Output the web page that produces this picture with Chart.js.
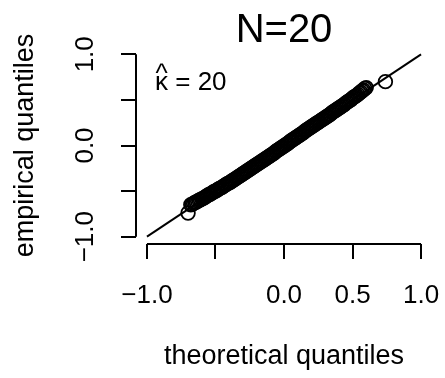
<!DOCTYPE html>
<html>
<head>
<meta charset="utf-8">
<script src="https://cdn.jsdelivr.net/npm/chart.js@4"></script>
<style>
  html, body { margin: 0; padding: 0; background: #fff; }
  canvas { display: block; }
</style>
</head>
<body>
<canvas id="qq" width="445" height="378"></canvas>
<script>
// theoretical vs empirical quantiles
const theoretical = [
  -0.70,
  -0.68,-0.67,-0.66,-0.65,-0.64,-0.63,-0.62,-0.61,-0.60,-0.59,
  -0.58,-0.57,-0.56,-0.55,-0.54,-0.53,-0.52,-0.51,-0.50,-0.49,
  -0.48,-0.47,-0.46,-0.45,-0.44,-0.43,-0.42,-0.41,-0.40,-0.39,
  -0.38,-0.37,-0.36,-0.35,-0.34,-0.33,-0.32,-0.31,-0.30,-0.29,
  -0.28,-0.27,-0.26,-0.25,-0.24,-0.23,-0.22,-0.21,-0.20,-0.19,
  -0.18,-0.17,-0.16,-0.15,-0.14,-0.13,-0.12,-0.11,-0.10,-0.09,
  -0.08,-0.07,-0.06,-0.05,-0.04,-0.03,-0.02,-0.01, 0.00, 0.01,
   0.02, 0.03, 0.04, 0.05, 0.06, 0.07, 0.08, 0.09, 0.10, 0.11,
   0.12, 0.13, 0.14, 0.15, 0.16, 0.17, 0.18, 0.19, 0.20, 0.21,
   0.22, 0.23, 0.24, 0.25, 0.26, 0.27, 0.28, 0.29, 0.30, 0.31,
   0.32, 0.33, 0.34, 0.35, 0.36, 0.37, 0.38, 0.39, 0.40, 0.41,
   0.42, 0.43, 0.44, 0.45, 0.46, 0.47, 0.48, 0.49, 0.50, 0.51,
   0.52, 0.53, 0.54, 0.55, 0.56, 0.57, 0.58, 0.59, 0.60,
   0.74
];
const empirical = [
  -0.74,
  -0.650,-0.645,-0.635,-0.625,-0.620,-0.610,-0.600,-0.595,-0.585,-0.580,
  -0.570,-0.560,-0.550,-0.540,-0.535,-0.525,-0.515,-0.505,-0.500,-0.490,
  -0.480,-0.470,-0.465,-0.455,-0.445,-0.435,-0.425,-0.415,-0.410,-0.400,
  -0.390,-0.380,-0.370,-0.360,-0.350,-0.340,-0.330,-0.320,-0.310,-0.300,
  -0.290,-0.280,-0.270,-0.260,-0.250,-0.240,-0.230,-0.220,-0.210,-0.200,
  -0.190,-0.180,-0.170,-0.160,-0.150,-0.140,-0.130,-0.120,-0.110,-0.100,
  -0.090,-0.080,-0.065,-0.055,-0.045,-0.035,-0.025,-0.015,-0.005, 0.005,
   0.015, 0.025, 0.040, 0.050, 0.060, 0.070, 0.080, 0.090, 0.100, 0.110,
   0.120, 0.130, 0.140, 0.155, 0.165, 0.175, 0.185, 0.195, 0.205, 0.215,
   0.225, 0.235, 0.245, 0.255, 0.265, 0.275, 0.285, 0.295, 0.305, 0.315,
   0.325, 0.335, 0.345, 0.360, 0.370, 0.380, 0.390, 0.400, 0.410, 0.420,
   0.430, 0.440, 0.450, 0.465, 0.475, 0.485, 0.495, 0.505, 0.520, 0.530,
   0.540, 0.550, 0.560, 0.575, 0.585, 0.600, 0.610, 0.625, 0.635,
   0.70
];

// reference line y = x
const lineX = [-1, 1];
const lineY = [-1, 1];

const xTicks = [-1, -0.5, 0, 0.5, 1];
const xTickLabels = ["\u22121.0", "", "0.0", "0.5", "1.0"];
const yTicks = [-1, -0.5, 0, 0.5, 1];
const yTickLabels = ["\u22121.0", "", "0.0", "", "1.0"];

const FONT = "'Liberation Sans', Arial, Helvetica, sans-serif";
Chart.defaults.font.family = FONT;
Chart.defaults.color = "#000";

const pts = theoretical.map((x, i) => ({ x: x, y: empirical[i] }));
const ref = lineX.map((x, i) => ({ x: x, y: lineY[i] }));

// R-style axes: line only between first and last tick, plus title / annotation
const rDecor = {
  id: "rDecor",
  afterDraw(chart) {
    const ctx = chart.ctx;
    const xs = chart.scales.x, ys = chart.scales.y;
    const area = chart.chartArea;
    ctx.save();
    ctx.strokeStyle = "#000";
    ctx.lineWidth = 2;
    ctx.beginPath();
    ctx.moveTo(xs.getPixelForValue(xTicks[0]), area.bottom);
    ctx.lineTo(xs.getPixelForValue(xTicks[xTicks.length - 1]), area.bottom);
    ctx.moveTo(area.left, ys.getPixelForValue(yTicks[0]));
    ctx.lineTo(area.left, ys.getPixelForValue(yTicks[yTicks.length - 1]));
    ctx.stroke();

    ctx.fillStyle = "#000";
    ctx.textBaseline = "alphabetic";
    ctx.textAlign = "center";
    ctx.font = "40px " + FONT;
    ctx.fillText("N=20", (area.left + area.right) / 2, 42);

    ctx.font = "26px " + FONT;
    ctx.textAlign = "left";
    ctx.fillText("\u03BA = 20", 155, 90);
    ctx.textAlign = "center";
    ctx.fillText("^", 161.5, 82);
    ctx.restore();
  }
};

new Chart(document.getElementById("qq"), {
  type: "scatter",
  data: {
    datasets: [
      {
        data: pts,
        pointStyle: "circle",
        pointRadius: 6.8,
        pointBorderWidth: 1.8,
        pointBorderColor: "#000",
        pointBackgroundColor: "rgba(0,0,0,0)",
        showLine: false
      },
      {
        data: ref,
        showLine: true,
        borderColor: "#000",
        borderWidth: 2,
        pointRadius: 0,
        fill: false
      }
    ]
  },
  options: {
    responsive: false,
    animation: false,
    devicePixelRatio: 1,
    layout: { padding: { left: 0, top: 47, right: 13, bottom: 0 } },
    plugins: {
      legend: { display: false },
      tooltip: { enabled: false }
    },
    scales: {
      x: {
        type: "linear",
        min: -1.08,
        max: 1.08,
        afterBuildTicks: s => { s.ticks = xTicks.map(v => ({ value: v })); },
        afterFit: s => { s.height = 134; s.paddingLeft = 0; s.paddingRight = 0; },
        border: { display: false },
        grid: { display: true, drawOnChartArea: false, drawTicks: true, tickLength: 15, color: "#000", lineWidth: 2 },
        ticks: {
          autoSkip: false,
          maxRotation: 0,
          padding: 21,
          font: { size: 26 },
          color: "#000",
          callback: (v, i) => xTickLabels[i]
        },
        title: {
          display: true,
          text: "theoretical quantiles",
          font: { size: 27 },
          color: "#000",
          padding: { top: 0, bottom: 5 }
        }
      },
      y: {
        type: "linear",
        min: -1.08,
        max: 1.08,
        afterBuildTicks: s => { s.ticks = yTicks.map(v => ({ value: v })); },
        afterFit: s => { s.width = 136; s.paddingTop = 0; s.paddingBottom = 0; },
        border: { display: false },
        grid: { display: true, drawOnChartArea: false, drawTicks: true, tickLength: 15, color: "#000", lineWidth: 2 },
        ticks: {
          autoSkip: false,
          minRotation: 90,
          maxRotation: 90,
          crossAlign: "center",
          padding: 10,
          font: { size: 26 },
          color: "#000",
          callback: (v, i) => yTickLabels[i]
        },
        title: {
          display: true,
          text: "empirical quantiles",
          font: { size: 27 },
          color: "#000",
          padding: { top: 9, bottom: 0 }
        }
      }
    }
  },
  plugins: [rDecor]
});
</script>
</body>
</html>
